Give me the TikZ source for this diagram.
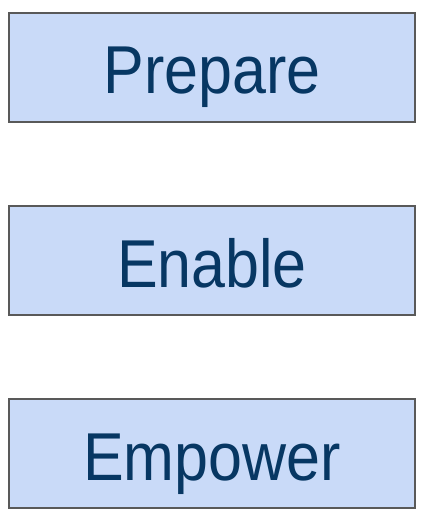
\documentclass[tikz,border=0pt]{standalone}
\usepackage{fontspec}
\setmainfont{Liberation Sans}[FakeStretch=0.9]
\definecolor{boxfill}{HTML}{C9DAF8}
\definecolor{boxline}{HTML}{595959}
\definecolor{boxtext}{HTML}{073763}
\begin{document}
\begin{tikzpicture}[x=1bp,y=-1bp,
  stage/.style={draw=boxline,line width=1.3bp,fill=boxfill,minimum width=406bp,minimum height=109bp,inner sep=0pt},
  stagelabel/.style={text=boxtext,anchor=base,font=\fontsize{68}{72}\selectfont,inner sep=0pt}]
  \useasboundingbox (0,0) rectangle (424,519);
  \node[stage] (prepare) at (212,67.5) {};
  \node[stage] (enable) at (212,260.5) {};
  \node[stage] (empower) at (212,453.5) {};
  \node[stagelabel] (prepareText) at (212,94) {Prepare};
  \node[stagelabel] (enableText) at (212,287) {Enable};
  \node[stagelabel] (empowerText) at (212,480) {Empower};
\end{tikzpicture}
\end{document}
